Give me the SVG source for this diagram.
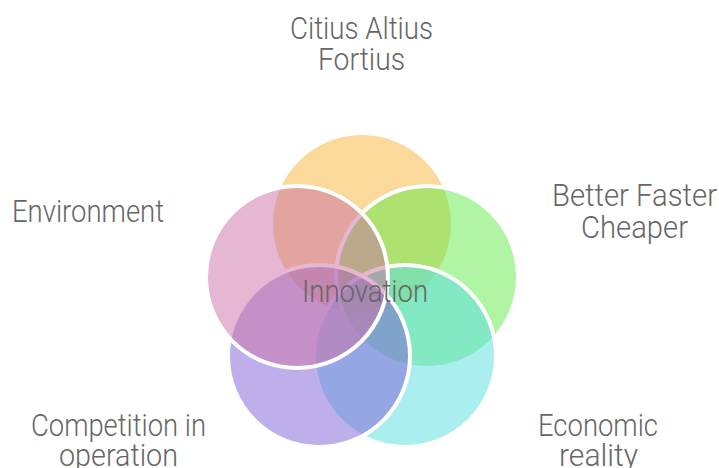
<svg xmlns="http://www.w3.org/2000/svg" width="719" height="468" viewBox="0 0 719 468">
  <style>
    .petal { fill-opacity: 0.5; stroke: #ffffff; stroke-width: 4; }
    .label { font-family: Roboto, "Liberation Sans", sans-serif; font-size: 31px; font-weight: 300; fill: #666666; text-anchor: middle; }
  </style>
  <rect width="719" height="468" fill="#ffffff"/>
  <g id="petals">
    <g id="node-citius"><circle class="petal" cx="362" cy="224" r="91" fill="#F7B337"/></g>
    <g id="node-better"><circle class="petal" cx="427" cy="277" r="91" fill="#5FEB47"/></g>
    <g id="node-economic"><circle class="petal" cx="405" cy="356" r="91" fill="#55DDE1"/></g>
    <g id="node-competition"><circle class="petal" cx="319" cy="356" r="91" fill="#7D5DD5"/></g>
    <g id="node-environment"><circle class="petal" cx="297" cy="277" r="91" fill="#CB6FA5"/></g>
  </g>
  <g id="connectors"/>
  <g id="labels">
    <g id="label-citius">
      <text class="label" x="361.5" y="38.5" textLength="143" lengthAdjust="spacingAndGlyphs">Citius Altius</text>
      <text class="label" x="361.5" y="70" textLength="87" lengthAdjust="spacingAndGlyphs">Fortius</text>
    </g>
    <g id="label-better">
      <text class="label" x="634.5" y="206" textLength="165" lengthAdjust="spacingAndGlyphs">Better Faster</text>
      <text class="label" x="634.5" y="238" textLength="107" lengthAdjust="spacingAndGlyphs">Cheaper</text>
    </g>
    <g id="label-environment">
      <text class="label" x="88" y="222" textLength="152" lengthAdjust="spacingAndGlyphs">Environment</text>
    </g>
    <g id="label-competition">
      <text class="label" x="118.5" y="435.5" textLength="175" lengthAdjust="spacingAndGlyphs">Competition in</text>
      <text class="label" x="118.5" y="466" textLength="119" lengthAdjust="spacingAndGlyphs">operation</text>
    </g>
    <g id="label-economic">
      <text class="label" x="598" y="435.5" textLength="120" lengthAdjust="spacingAndGlyphs">Economic</text>
      <text class="label" x="598.5" y="466" textLength="79" lengthAdjust="spacingAndGlyphs">reality</text>
    </g>
    <g id="node-innovation">
      <text class="label" x="365" y="301.5" textLength="126" lengthAdjust="spacingAndGlyphs">Innovation</text>
    </g>
  </g>
</svg>
